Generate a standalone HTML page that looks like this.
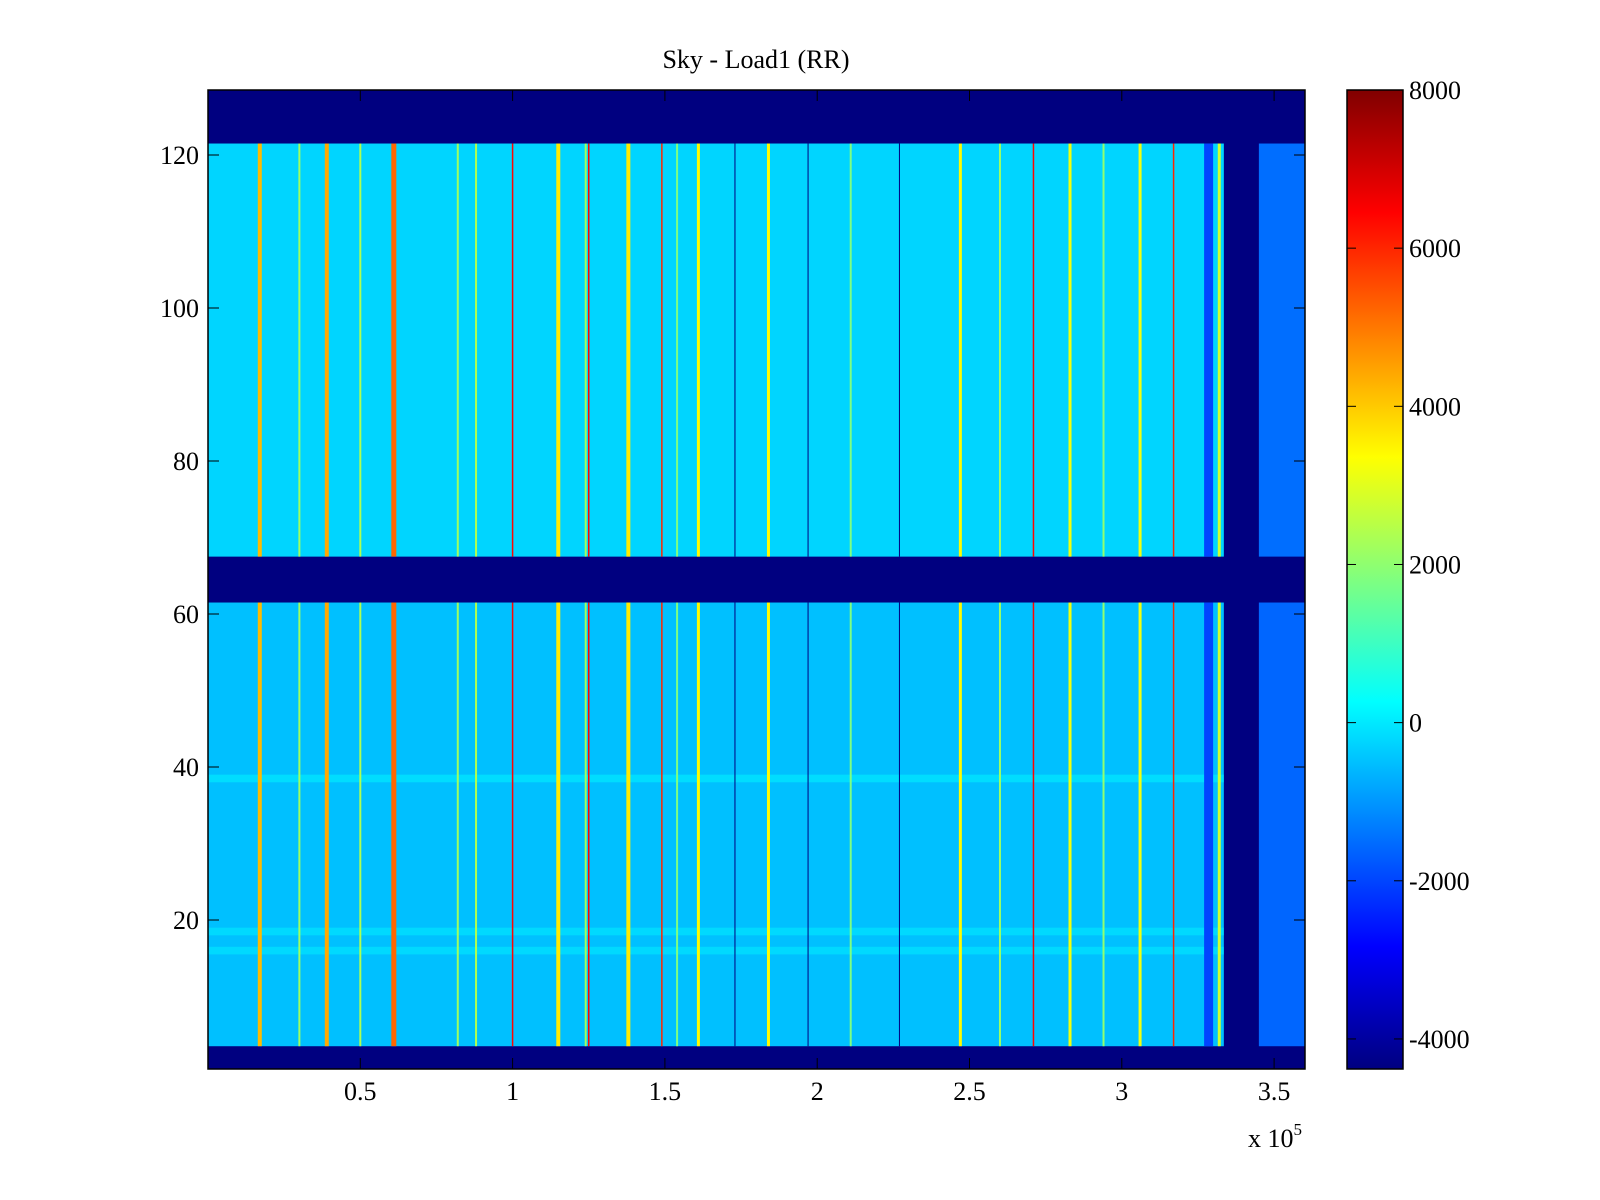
<!DOCTYPE html>
<html><head><meta charset="utf-8"><style>
html,body{margin:0;padding:0;background:#fff;width:1600px;height:1200px;overflow:hidden}
svg text{font-family:"Liberation Serif",serif;font-size:26px;fill:#000}
</style></head><body>
<svg id="chart" width="1600" height="1200">
<defs>
<linearGradient id="jet" x1="0" y1="1" x2="0" y2="0">
<stop offset="0" stop-color="rgb(0,0,128)"/><stop offset="0.125" stop-color="rgb(0,0,255)"/>
<stop offset="0.375" stop-color="rgb(0,255,255)"/><stop offset="0.625" stop-color="rgb(255,255,0)"/>
<stop offset="0.875" stop-color="rgb(255,0,0)"/><stop offset="1" stop-color="rgb(128,0,0)"/>
</linearGradient>
<clipPath id="plotclip"><rect x="208" y="90" width="1097" height="979"/></clipPath>
</defs>
<text x="756" y="68" text-anchor="middle">Sky - Load1 (RR)</text>
<g id="plot" clip-path="url(#plotclip)"></g>
<rect x="208" y="90" width="1097" height="979" fill="none" stroke="#000" stroke-width="1.5"/>
<g id="xaxis"></g>
<g id="yaxis"></g>
<text x="1248" y="1147">x 10<tspan dy="-12" font-size="17">5</tspan></text>
<rect x="1347" y="90" width="56" height="979" fill="url(#jet)" stroke="#000" stroke-width="1.5"/>
<g id="cbaxis"></g>
</svg>
<script>
// data
const xTicks=[0.5,1,1.5,2,2.5,3,3.5];
const xTickLabels=["0.5","1","1.5","2","2.5","3","3.5"];
const yTicks=[20,40,60,80,100,120];
const cbTicks=[-4000,-2000,0,2000,4000,6000,8000];
const blockY0=[3.5,67.5,3.5,67.5];
const blockY1=[61.5,121.5,61.5,121.5];
const blockX0=[0,0,3.45,3.45];
const blockX1=[3.335,3.335,3.6,3.6];
const blockVal=[-500,-250,-1600,-1500];
const rowY=[38.5,16,18.5];
const rowVal=[200,100,100];
const lineX=[0.17,0.39,0.61,1.15,1.38,1.61,1.84,2.47,2.83,3.06,3.32,0.30,0.50,0.82,0.88,1.24,1.54,2.11,2.60,2.94,1.00,1.25,1.49,1.73,1.97,2.27,2.71,3.17,3.285];
const lineVal=[4200,4400,5200,3600,3600,3400,3400,3400,3200,3200,2800,2200,2400,2200,2400,2200,1800,1800,2200,2000,6400,6400,6000,-4400,-4400,-4400,6400,6000,-2000];
const lineW=[4,4,5,4,4,3,3,3,3,3,3,2,2,2,2,2,2,2,2,2,1.5,1.5,1.5,1,1,1,1.5,1.5,9];
const X0=208, XS=304.6, Y0=1073, YS=7.65;
const xs=v=>X0+v*XS, ys=v=>Y0-v*YS;
const VMIN=-4380,VMAX=8000;
const cbY=v=>1069-(v-VMIN)/(VMAX-VMIN)*979;
function jet(v){let t=(v-VMIN)/(VMAX-VMIN);t=Math.max(0,Math.min(1,t));
 const f=x=>Math.max(0,Math.min(1,x));
 const r=f(Math.min(4*t-1.5,-4*t+4.5)),g=f(Math.min(4*t-0.5,-4*t+3.5)),b=f(Math.min(4*t+0.5,-4*t+2.5));
 return `rgb(${Math.round(r*255)},${Math.round(g*255)},${Math.round(b*255)})`;}
const NS="http://www.w3.org/2000/svg";
function mk(tag,attrs,parent){const e=document.createElementNS(NS,tag);for(const k in attrs)e.setAttribute(k,attrs[k]);parent.appendChild(e);return e;}
const plot=document.getElementById('plot');
const bg=mk('rect',{x:208,y:90,width:1097,height:979,fill:jet(VMIN)},plot);


for(let i=0;i<blockVal.length;i++){
 const r=mk('rect',{x:xs(blockX0[i]),y:ys(blockY1[i]),width:xs(blockX1[i])-xs(blockX0[i]),height:ys(blockY0[i])-ys(blockY1[i]),fill:jet(blockVal[i])},plot);
 
 
}
for(let i=0;i<rowY.length;i++){
 const r=mk('rect',{x:xs(0),y:ys(rowY[i]+0.5),width:xs(3.335)-xs(0),height:YS,fill:jet(rowVal[i]),opacity:0.5},plot);
 
 
}
for(let i=0;i<lineX.length;i++){
 for(let b=0;b<2;b++){
  const l=mk('rect',{x:xs(lineX[i])-lineW[i]/2,y:ys(blockY1[b]),width:lineW[i],height:ys(blockY0[b])-ys(blockY1[b]),fill:jet(lineVal[i])},plot);
  
  
 }
}
const xa=document.getElementById('xaxis');
xTicks.forEach((t,i)=>{const x=xs(t);
 mk('line',{x1:x,x2:x,y1:1069,y2:1058,stroke:'#000'},xa);
 mk('line',{x1:x,x2:x,y1:90,y2:101,stroke:'#000'},xa);
 const tx=mk('text',{x:x,y:1100,'text-anchor':'middle'},xa);tx.textContent=xTickLabels[i];
 
 
});
const ya=document.getElementById('yaxis');
yTicks.forEach(t=>{const y=ys(t);
 mk('line',{x1:208,x2:219,y1:y,y2:y,stroke:'#000'},ya);
 mk('line',{x1:1305,x2:1294,y1:y,y2:y,stroke:'#000'},ya);
 const tx=mk('text',{x:199,y:y+9,'text-anchor':'end'},ya);tx.textContent=t;
 
 
});
const ca=document.getElementById('cbaxis');
cbTicks.forEach(t=>{const y=cbY(t);
 mk('line',{x1:1347,x2:1356,y1:y,y2:y,stroke:'#000'},ca);
 mk('line',{x1:1403,x2:1394,y1:y,y2:y,stroke:'#000'},ca);
 const tx=mk('text',{x:1409,y:y+9},ca);tx.textContent=t;
 
 
});
</script>
</body></html>
